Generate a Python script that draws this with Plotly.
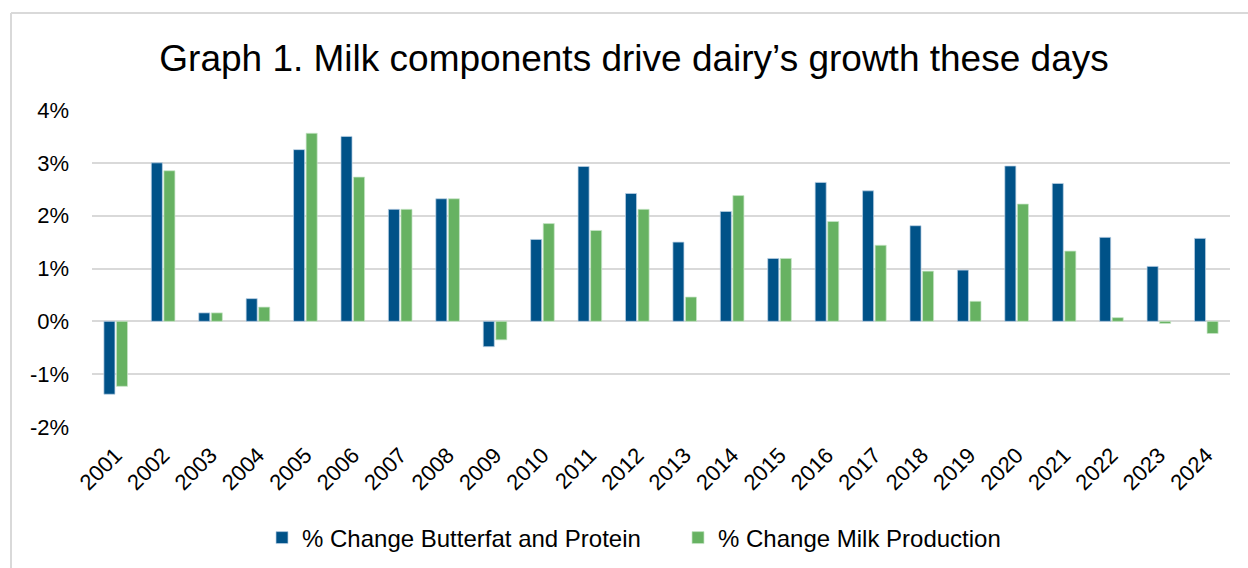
import plotly.graph_objects as go

years = [str(y) for y in range(2001, 2025)]
butterfat_protein = [-1.38, 3.00, 0.16, 0.43, 3.25, 3.50, 2.12, 2.32, -0.48, 1.55,
                     2.93, 2.42, 1.50, 2.08, 1.19, 2.63, 2.47, 1.81, 0.97, 2.94,
                     2.61, 1.59, 1.04, 1.57]
milk_production = [-1.23, 2.85, 0.16, 0.27, 3.56, 2.73, 2.12, 2.32, -0.35, 1.85,
                   1.72, 2.12, 0.46, 2.38, 1.19, 1.89, 1.44, 0.95, 0.38, 2.22,
                   1.33, 0.07, -0.04, -0.23]
y_ticks = [-2, -1, 0, 1, 2, 3, 4]
y_tick_text = [f"{v}%" for v in y_ticks]

W, H = 1248, 568
ML, MR, MT, MB = 92, 18, 110, 141
plot_w = W - ML - MR
plot_h = H - MT - MB


def px_x(p):
    return (p - ML) / plot_w


def px_y(p):
    return (H - MB - p) / plot_h


FONT = "Liberation Sans, Arial, sans-serif"
BLUE = "#005288"
GREEN = "#67b262"

fig = go.Figure()
fig.add_trace(go.Bar(
    x=years, y=butterfat_protein, name="% Change Butterfat and Protein",
    marker=dict(color=BLUE, line=dict(color="rgba(190,210,230,0.9)", width=0.8)),
))
fig.add_trace(go.Bar(
    x=years, y=milk_production, name="% Change Milk Production",
    marker=dict(color=GREEN, line=dict(color="rgba(200,230,200,0.9)", width=0.8)),
))

fig.update_layout(
    width=W, height=H,
    margin=dict(l=ML, r=MR, t=MT, b=MB, autoexpand=False),
    paper_bgcolor="white", plot_bgcolor="white",
    barmode="group", bargap=0.47, bargroupgap=0.12,
    font=dict(family=FONT, color="black"),
    title=dict(
        text="Graph 1. Milk components drive dairy\u2019s growth these days",
        x=px_x(634), xref="paper", xanchor="center",
        y=1 - 58 / H, yanchor="middle",
        font=dict(family=FONT, size=37, color="black"),
    ),
    legend=dict(
        orientation="h", x=px_x(262), xanchor="left", xref="paper",
        y=px_y(538), yanchor="middle",
        font=dict(family=FONT, size=24, color="black"),
        itemwidth=30, traceorder="normal", entrywidth=371,
    ),
    xaxis=dict(
        tickangle=-45, tickfont=dict(family=FONT, size=22, color="black"),
        showgrid=False, showline=False, ticks="", zeroline=False,
        ticklabelstandoff=10, automargin=False,
    ),
    yaxis=dict(
        range=[-2, 4], tickvals=y_ticks, ticktext=y_tick_text,
        tickfont=dict(family=FONT, size=22, color="black"),
        showgrid=True, gridcolor="#d9d9d9", gridwidth=2,
        zeroline=True, zerolinecolor="#d9d9d9", zerolinewidth=2,
        showline=False, ticks="", ticklabelstandoff=22, automargin=False,
    ),
    shapes=[
        dict(type="line", xref="paper", yref="paper",
             x0=px_x(11), x1=px_x(W + 5), y0=px_y(13), y1=px_y(13),
             line=dict(color="#d9d9d9", width=2)),
        dict(type="line", xref="paper", yref="paper",
             x0=px_x(11), x1=px_x(11), y0=px_y(13), y1=px_y(H + 5),
             line=dict(color="#d9d9d9", width=2)),
    ],
)

fig.write_html("out.html")
